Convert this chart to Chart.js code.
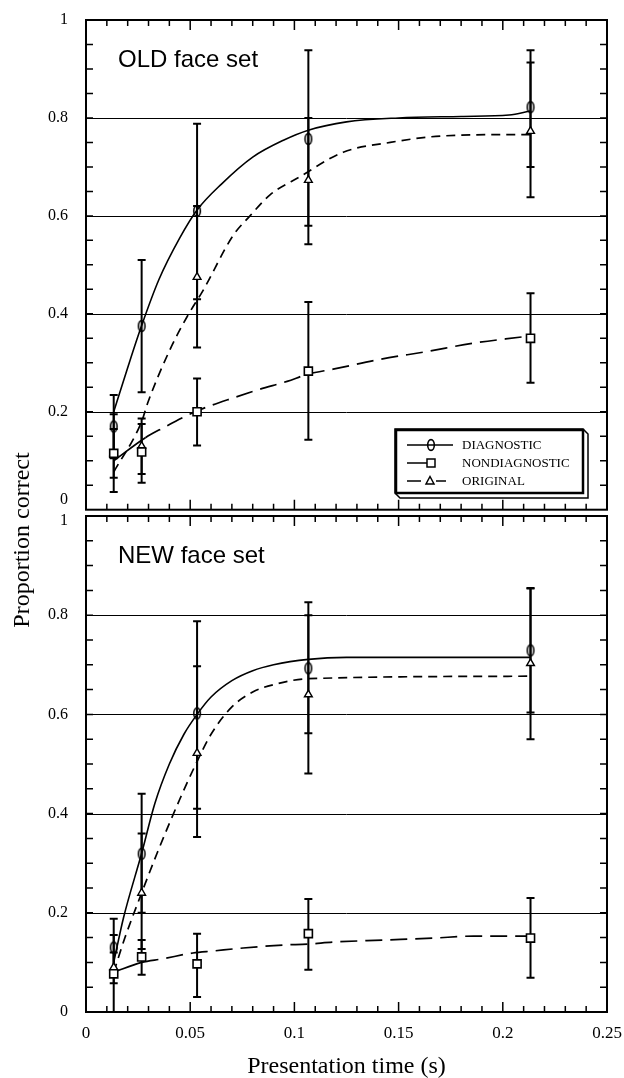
<!DOCTYPE html>
<html>
<head>
<meta charset="utf-8">
<script src="https://cdn.jsdelivr.net/npm/chart.js@4.4.1/dist/chart.umd.min.js"></script>
<style>
  html, body { margin: 0; padding: 0; background: #fff; }
  #wrap { position: relative; width: 624px; height: 1078px; }
  #bottomChart { position: absolute; left: 0; top: 0; z-index: 1; }
  #topChart { position: absolute; left: 0; top: 0; z-index: 2; }
</style>
</head>
<body>
<div id="wrap">
  <canvas id="bottomChart" width="624" height="1078"></canvas>
  <canvas id="topChart" width="624" height="517"></canvas>
</div>
<script>
// presentation times (s) of the five conditions
const times = [0.0133, 0.0267, 0.0533, 0.1067, 0.2133];

// OLD face set: means and error bar ends
const oldDiag = [0.17, 0.375, 0.61, 0.757, 0.822];
const oldDiagLo = [0.105, 0.24, 0.43, 0.58, 0.70];
const oldDiagHi = [0.234, 0.51, 0.788, 0.938, 0.938];
const oldNondiag = [0.115, 0.118, 0.2, 0.283, 0.35];
const oldNondiagLo = [0.065, 0.055, 0.131, 0.143, 0.259];
const oldNondiagHi = [0.165, 0.175, 0.268, 0.424, 0.442];
const oldOrig = [0.115, 0.13, 0.475, 0.673, 0.773];
const oldOrigLo = [0.036, 0.073, 0.331, 0.542, 0.638];
const oldOrigHi = [0.195, 0.186, 0.62, 0.80, 0.913];

// OLD face set: fitted curves
const oldDiagFitT = [0.0133, 0.02, 0.0267, 0.035, 0.045, 0.0533, 0.065, 0.08, 0.095, 0.1067, 0.125, 0.15, 0.18, 0.203, 0.2133];
const oldDiagFit = [0.20, 0.29, 0.376, 0.47, 0.555, 0.612, 0.665, 0.72, 0.755, 0.775, 0.792, 0.80, 0.803, 0.806, 0.814];
const oldOrigFitT = [0.0133, 0.0267, 0.0296, 0.0403, 0.0485, 0.0562, 0.0706, 0.0787, 0.0883, 0.1027, 0.1234, 0.146, 0.17, 0.205, 0.2133];
const oldOrigFit = [0.077, 0.18, 0.218, 0.327, 0.394, 0.448, 0.56, 0.60, 0.643, 0.68, 0.73, 0.75, 0.763, 0.766, 0.766];
const oldNondiagFitT = [0.0133, 0.0285, 0.0365, 0.0513, 0.0595, 0.069, 0.0835, 0.0965, 0.1067, 0.1186, 0.141, 0.1636, 0.1857, 0.2097, 0.2133];
const oldNondiagFit = [0.10, 0.147, 0.166, 0.198, 0.212, 0.226, 0.246, 0.262, 0.277, 0.287, 0.307, 0.323, 0.34, 0.353, 0.355];

// NEW face set: means and error bar ends
const newDiag = [0.13, 0.319, 0.602, 0.693, 0.729];
const newDiagLo = [0.072, 0.2, 0.41, 0.562, 0.604];
const newDiagHi = [0.188, 0.44, 0.788, 0.826, 0.854];
const newNondiag = [0.077, 0.111, 0.097, 0.158, 0.149];
const newNondiagLo = [-0.02, 0.075, 0.03, 0.085, 0.069];
const newNondiagHi = [0.155, 0.145, 0.158, 0.228, 0.23];
const newOrig = [0.09, 0.24, 0.522, 0.64, 0.703];
const newOrigLo = [0.058, 0.127, 0.353, 0.481, 0.55];
const newOrigHi = [0.12, 0.36, 0.697, 0.80, 0.855];

// NEW face set: fitted curves
const newDiagFitT = [0.0133, 0.018, 0.0267, 0.033, 0.04, 0.047, 0.0533, 0.06, 0.07, 0.08, 0.09, 0.1067, 0.125, 0.2133];
const newDiagFit = [0.10, 0.19, 0.32, 0.42, 0.50, 0.56, 0.60, 0.635, 0.668, 0.688, 0.70, 0.711, 0.715, 0.715];
const newOrigFitT = [0.0133, 0.0187, 0.0267, 0.0341, 0.0451, 0.0533, 0.06, 0.07, 0.08, 0.09, 0.1067, 0.2133];
const newOrigFit = [0.08, 0.15, 0.24, 0.32, 0.43, 0.505, 0.56, 0.615, 0.645, 0.66, 0.672, 0.677];
const newNondiagFitT = [0.0133, 0.0267, 0.0365, 0.0513, 0.061, 0.0754, 0.0946, 0.1067, 0.1186, 0.1426, 0.1666, 0.186, 0.2133];
const newNondiagFit = [0.08, 0.10, 0.107, 0.119, 0.123, 0.129, 0.135, 0.137, 0.141, 0.145, 0.149, 0.153, 0.153];

// axis ticks
const xTickValues = [0, 0.05, 0.1, 0.15, 0.2, 0.25];
const xTickLabels = ['0', '0.05', '0.1', '0.15', '0.2', '0.25'];
const yTickValues = [1, 0.8, 0.6, 0.4, 0.2, 0];
const yTickLabels = ['1', '0.8', '0.6', '0.4', '0.2', '0'];
const gridValues = [0.2, 0.4, 0.6, 0.8];

const legendNames = ['DIAGNOSTIC', 'NONDIAGNOSTIC', 'ORIGINAL'];

const SERIF = '"Liberation Serif", "Times New Roman", serif';
const SANS = '"Liberation Sans", Arial, sans-serif';

// tall open "O" marker for DIAGNOSTIC
const ovalMark = document.createElement('canvas');
ovalMark.width = 10;
ovalMark.height = 14;
(function () {
  const c = ovalMark.getContext('2d');
  c.strokeStyle = '#000';
  c.lineWidth = 1.6;
  c.beginPath();
  c.ellipse(5, 7, 3.3, 5.4, 0, 0, Math.PI * 2);
  c.stroke();
})();

function pairs(xs, ys) {
  return xs.map((t, i) => ({ x: t, y: ys[i] }));
}

function drawMarker(ctx, kind, x, y) {
  ctx.save();
  ctx.strokeStyle = '#000';
  ctx.fillStyle = '#fff';
  ctx.lineWidth = 1.5;
  if (kind === 'oval') {
    ctx.drawImage(ovalMark, x - 5, y - 7);
  } else if (kind === 'square') {
    ctx.fillRect(x - 4, y - 4, 8, 8);
    ctx.strokeRect(x - 4, y - 4, 8, 8);
  } else {
    ctx.beginPath();
    ctx.moveTo(x, y - 4.5);
    ctx.lineTo(x + 4, y + 3);
    ctx.lineTo(x - 4, y + 3);
    ctx.closePath();
    ctx.fill();
    ctx.stroke();
  }
  ctx.restore();
}

const panelDecor = {
  id: 'panelDecor',
  beforeDatasetsDraw(chart, args, opts) {
    const { ctx, chartArea: a, scales: { x, y } } = chart;
    ctx.save();
    ctx.strokeStyle = '#000';
    ctx.lineWidth = 1;
    gridValues.forEach((v) => {
      const py = Math.round(y.getPixelForValue(v)) + 0.5;
      ctx.beginPath();
      ctx.moveTo(a.left, py);
      ctx.lineTo(a.right, py);
      ctx.stroke();
    });
    // error bars
    ctx.beginPath();
    ctx.rect(a.left, a.top, a.right - a.left, a.bottom - a.top);
    ctx.clip();
    ctx.lineWidth = 2;
    opts.bars.forEach((b) => {
      times.forEach((t, i) => {
        const px = x.getPixelForValue(t);
        const top = y.getPixelForValue(b.hi[i]);
        const bot = y.getPixelForValue(b.lo[i]);
        ctx.beginPath();
        ctx.moveTo(px, top);
        ctx.lineTo(px, bot);
        ctx.moveTo(px - 4, top);
        ctx.lineTo(px + 4, top);
        ctx.moveTo(px - 4, bot);
        ctx.lineTo(px + 4, bot);
        ctx.stroke();
      });
    });
    ctx.restore();
  },
  afterDraw(chart, args, opts) {
    const { ctx, chartArea: a, scales: { x, y } } = chart;
    ctx.save();
    ctx.strokeStyle = '#000';
    ctx.fillStyle = '#000';

    // frame
    ctx.lineWidth = 2;
    ctx.strokeRect(a.left, a.top, a.right - a.left, a.bottom - a.top);

    // inward ticks
    ctx.lineWidth = 1.5;
    ctx.beginPath();
    for (let k = 1; k < 25; k++) {
      const px = x.getPixelForValue(k / 100);
      const len = k % 5 === 0 ? 10 : 6;
      ctx.moveTo(px, a.top);
      ctx.lineTo(px, a.top + len);
      ctx.moveTo(px, a.bottom);
      ctx.lineTo(px, a.bottom - len);
    }
    for (let k = 1; k < 20; k++) {
      const py = y.getPixelForValue(k / 20);
      ctx.moveTo(a.left, py);
      ctx.lineTo(a.left + 7, py);
      ctx.moveTo(a.right, py);
      ctx.lineTo(a.right - 7, py);
    }
    ctx.stroke();

    // y tick labels
    ctx.font = '16px ' + SERIF;
    ctx.textAlign = 'right';
    ctx.textBaseline = 'middle';
    yTickValues.forEach((v, i) => {
      let py = y.getPixelForValue(v);
      if (v === 0 && opts.shiftZero) py -= 10;
      if (v === 1 && opts.shiftOne) py += 5;
      ctx.fillText(yTickLabels[i], 68, py);
    });

    // panel title
    ctx.textAlign = 'left';
    ctx.textBaseline = 'alphabetic';
    ctx.font = '24px ' + SANS;
    ctx.fillText(opts.title, 118, a.top + opts.titleDy);

    if (opts.xLabels) {
      ctx.font = '17px ' + SERIF;
      ctx.textAlign = 'center';
      ctx.textBaseline = 'middle';
      xTickValues.forEach((v, i) => {
        ctx.fillText(xTickLabels[i], x.getPixelForValue(v), a.bottom + 22);
      });
      ctx.font = '24px ' + SERIF;
      ctx.textBaseline = 'alphabetic';
      ctx.fillText('Presentation time (s)', (a.left + a.right) / 2, 1073);
      ctx.save();
      ctx.translate(29, 540);
      ctx.rotate(-Math.PI / 2);
      ctx.fillText('Proportion correct', 0, 0);
      ctx.restore();
    }

    if (opts.legend) {
      // box with drop shadow
      ctx.lineWidth = 1.5;
      ctx.beginPath();
      ctx.moveTo(395, 429);
      ctx.lineTo(583, 429);
      ctx.lineTo(588, 434);
      ctx.lineTo(588, 498);
      ctx.lineTo(400, 498);
      ctx.lineTo(395, 493);
      ctx.closePath();
      ctx.stroke();
      ctx.lineWidth = 2.5;
      ctx.strokeRect(396, 430, 187, 63);

      const rows = [445, 463, 481];
      ctx.lineWidth = 1.5;
      ctx.beginPath();
      ctx.moveTo(407, rows[0]);
      ctx.lineTo(453, rows[0]);
      ctx.moveTo(407, rows[1]);
      ctx.lineTo(427, rows[1]);
      ctx.moveTo(407, rows[2]);
      ctx.lineTo(421, rows[2]);
      ctx.moveTo(436, rows[2]);
      ctx.lineTo(446, rows[2]);
      ctx.stroke();
      drawMarker(ctx, 'oval', 431, rows[0]);
      drawMarker(ctx, 'square', 431, rows[1]);
      drawMarker(ctx, 'tri', 430, rows[2]);

      ctx.fillStyle = '#000';
      ctx.font = '13px ' + SERIF;
      ctx.textAlign = 'left';
      ctx.textBaseline = 'middle';
      legendNames.forEach((name, i) => ctx.fillText(name, 462, rows[i] + 1));
    }
    ctx.restore();
  }
};

function buildSets(diag, nondiag, orig, diagFitT, diagFit, nondiagFitT, nondiagFit, origFitT, origFit) {
  return [
    {
      label: 'DIAGNOSTIC', data: pairs(times, diag), showLine: false, order: 0,
      pointStyle: ovalMark, pointRadius: 6
    },
    {
      label: 'NONDIAGNOSTIC', data: pairs(times, nondiag), showLine: false, order: 0,
      pointStyle: 'rect', pointRadius: 5.7, borderColor: '#000', backgroundColor: '#fff', borderWidth: 1.6
    },
    {
      label: 'ORIGINAL', data: pairs(times, orig), showLine: false, order: 0,
      pointStyle: 'triangle', pointRadius: 4.5, borderColor: '#000', backgroundColor: '#fff', borderWidth: 1.4
    },
    {
      label: 'diagnostic fit', data: pairs(diagFitT, diagFit), showLine: true, order: 1,
      borderColor: '#000', borderWidth: 1.6, pointRadius: 0, cubicInterpolationMode: 'monotone'
    },
    {
      label: 'nondiagnostic fit', data: pairs(nondiagFitT, nondiagFit), showLine: true, order: 1,
      borderColor: '#000', borderWidth: 1.7, pointRadius: 0, cubicInterpolationMode: 'monotone',
      borderDash: [17, 8],
      segment: { borderDash: (c) => (c.p0DataIndex === 0 ? [] : [17, 8]) }
    },
    {
      label: 'original fit', data: pairs(origFitT, origFit), showLine: true, order: 1,
      borderColor: '#000', borderWidth: 1.7, pointRadius: 0, cubicInterpolationMode: 'monotone',
      borderDash: [9, 6]
    }
  ];
}

function makeChart(canvasId, padding, datasets, decor) {
  return new Chart(document.getElementById(canvasId), {
    type: 'scatter',
    data: { datasets },
    options: {
      responsive: false,
      animation: false,
      devicePixelRatio: 1,
      layout: { padding },
      plugins: {
        legend: { display: false },
        tooltip: { enabled: false },
        panelDecor: decor
      },
      scales: {
        x: { type: 'linear', display: false, min: 0, max: 0.25 },
        y: { type: 'linear', display: false, min: 0, max: 1 }
      }
    },
    plugins: [panelDecor]
  });
}

makeChart('topChart', { top: 20, bottom: 2, left: 86, right: 17 },
  buildSets(oldDiag, oldNondiag, oldOrig, oldDiagFitT, oldDiagFit, oldNondiagFitT, oldNondiagFit, oldOrigFitT, oldOrigFit),
  {
    title: 'OLD face set', titleDy: 47, shiftZero: true, shiftOne: false, xLabels: false, legend: true,
    bars: [
      { lo: oldDiagLo, hi: oldDiagHi },
      { lo: oldNondiagLo, hi: oldNondiagHi },
      { lo: oldOrigLo, hi: oldOrigHi }
    ]
  });

makeChart('bottomChart', { top: 516, bottom: 66, left: 86, right: 17 },
  buildSets(newDiag, newNondiag, newOrig, newDiagFitT, newDiagFit, newNondiagFitT, newNondiagFit, newOrigFitT, newOrigFit),
  {
    title: 'NEW face set', titleDy: 47, shiftZero: false, shiftOne: true, xLabels: true, legend: false,
    bars: [
      { lo: newDiagLo, hi: newDiagHi },
      { lo: newNondiagLo, hi: newNondiagHi },
      { lo: newOrigLo, hi: newOrigHi }
    ]
  });
</script>
</body>
</html>
